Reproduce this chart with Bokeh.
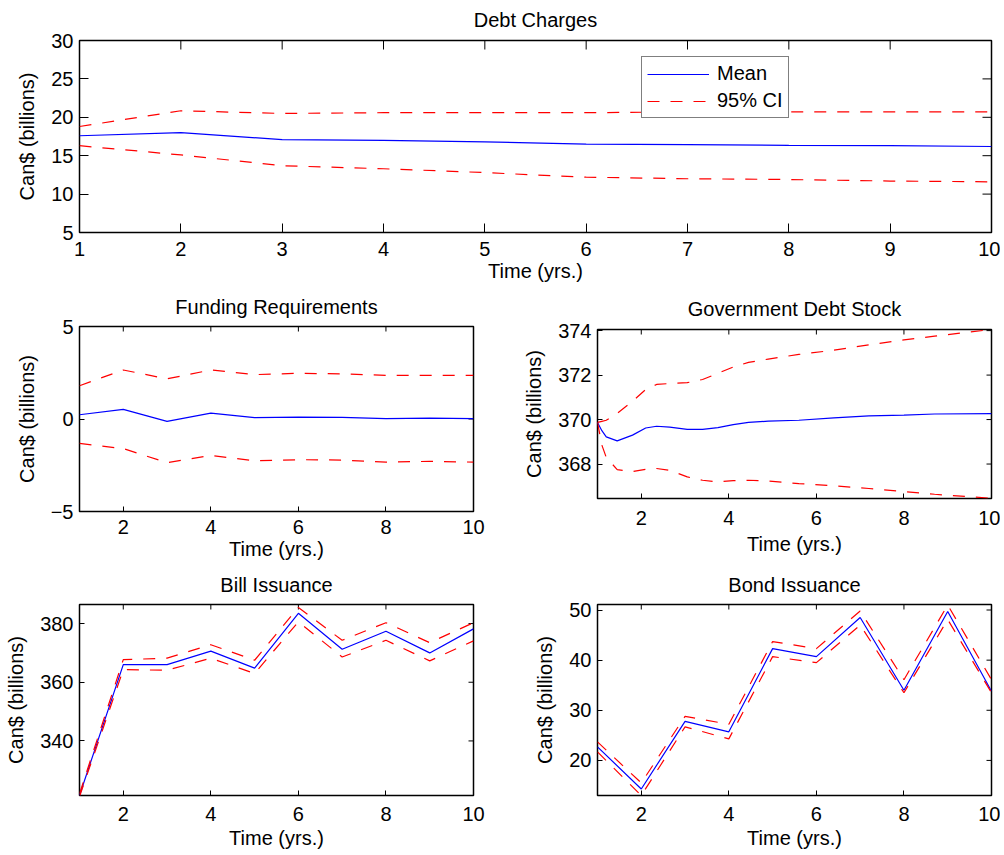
import math
from bokeh.plotting import figure
from bokeh.models import FixedTicker, Range1d, Legend, LegendItem
from bokeh.layouts import column, row
from bokeh.embed import file_html
from bokeh.resources import INLINE

FONT = "Liberation Sans"
FS = "20px"

# ---------------- data ----------------
years = [1, 2, 3, 4, 5, 6, 7, 8, 9, 10]

debt_mean = [17.6, 18.0, 17.1, 17.0, 16.8, 16.5, 16.45, 16.35, 16.3, 16.2]
debt_upper = [18.8, 20.85, 20.5, 20.6, 20.6, 20.6, 20.7, 20.7, 20.7, 20.7]
debt_lower = [16.3, 15.1, 13.7, 13.3, 12.8, 12.2, 12.0, 11.9, 11.7, 11.6]

fund_mean = [0.23, 0.52, -0.13, 0.32, 0.07, 0.10, 0.09, 0.02, 0.05, 0.02]
fund_upper = [1.8, 2.65, 2.17, 2.65, 2.4, 2.47, 2.44, 2.36, 2.36, 2.36]
fund_lower = [-1.32, -1.6, -2.36, -1.97, -2.26, -2.2, -2.22, -2.33, -2.29, -2.33]

stock_t = [1.0, 1.1, 1.2, 1.45, 1.8, 2.1, 2.35, 2.65, 3.05, 3.4, 3.75, 4.1,
           4.45, 4.9, 5.6, 6.4, 7.2, 8.0, 8.7, 10.0]
stock_mean = [369.87, 369.5, 369.22, 369.04, 369.3, 369.62, 369.7, 369.66, 369.56,
              369.56, 369.64, 369.77, 369.87, 369.93, 369.97, 370.08, 370.17,
              370.2, 370.25, 370.27]
stock_upper = [369.87, 369.92, 369.97, 370.28, 370.82, 371.35, 371.58, 371.62, 371.66,
               371.8, 372.08, 372.36, 372.57, 372.72, 372.93, 373.12, 373.36,
               373.58, 373.75, 374.05]
stock_lower = [369.87, 368.85, 368.3, 367.75, 367.66, 367.76, 367.8, 367.72, 367.42,
               367.27, 367.2, 367.25, 367.27, 367.24, 367.12, 367.02, 366.9,
               366.76, 366.64, 366.46]

bill_mean = [321.4, 366.0, 366.0, 370.6, 364.8, 383.5, 371.25, 377.4, 370.0, 378.2]
bill_upper = [322.0, 367.7, 368.2, 372.8, 367.5, 385.5, 374.3, 380.3, 373.5, 380.3]
bill_lower = [321.0, 364.3, 364.1, 368.2, 363.0, 380.6, 368.6, 374.3, 367.3, 374.1]

bond_mean = [22.7, 14.3, 27.8, 25.7, 42.3, 40.7, 48.5, 34.0, 49.7, 33.8]
bond_upper = [23.7, 15.5, 28.8, 27.2, 43.7, 42.3, 49.8, 36.1, 51.0, 36.1]
bond_lower = [21.7, 13.0, 26.7, 24.3, 40.7, 39.5, 47.0, 33.5, 48.1, 33.5]

debt_xticks = [1, 2, 3, 4, 5, 6, 7, 8, 9, 10]
debt_yticks = [5, 10, 15, 20, 25, 30]
small_xticks = [2, 4, 6, 8, 10]
fund_yticks = [-5, 0, 5]
stock_yticks = [368, 370, 372, 374]
bill_yticks = [340, 360, 380]
bond_yticks = [20, 30, 40, 50]

MEAN_COLOR = "#0000ff"
CI_COLOR = "#ff0000"
DASH = "12 11"


def style_axis(ax, tick_len, standoff, label_standoff):
    ax.axis_line_color = None
    ax.major_tick_in = tick_len
    ax.major_tick_out = 0
    ax.major_tick_line_color = "black"
    ax.major_tick_line_width = 1
    ax.minor_tick_line_color = None
    ax.major_label_text_font = FONT
    ax.major_label_text_font_size = FS
    ax.major_label_text_color = "black"
    ax.major_label_standoff = standoff
    ax.axis_label_text_font = FONT
    ax.axis_label_text_font_size = FS
    ax.axis_label_text_font_style = "normal"
    ax.axis_label_text_color = "black"
    ax.axis_label_standoff = label_standoff


def make_fig(title, width, height, left, right, top, bottom, xr, yr, xticks, yticks,
             tick_len, xstand, xlabstand, title_standoff, ystand=6, ylabstand=10,
             yover=None):
    p = figure(width=width, height=height, x_range=Range1d(*xr), y_range=Range1d(*yr),
               output_backend="svg", toolbar_location=None,
               min_border_left=left, min_border_right=right,
               min_border_top=top, min_border_bottom=bottom)
    p.grid.visible = False
    p.outline_line_color = "black"
    p.outline_line_width = 1.5
    p.background_fill_color = "white"
    p.border_fill_color = "white"
    p.title.text = title
    p.title.align = "center"
    p.title.vertical_align = "top"
    p.title.text_font = FONT
    p.title.text_font_size = FS
    p.title.text_font_style = "normal"
    p.title.text_color = "black"
    p.title.standoff = title_standoff
    p.xaxis.ticker = FixedTicker(ticks=xticks)
    p.yaxis.ticker = FixedTicker(ticks=yticks)
    if yover:
        p.yaxis.major_label_overrides = yover
    p.xaxis.axis_label = "Time (yrs.)"
    p.yaxis.axis_label = "Can$ (billions)"
    style_axis(p.xaxis[0], tick_len, xstand, xlabstand)
    style_axis(p.yaxis[0], tick_len, ystand, ylabstand)
    # mirrored inward ticks on the top and right edges of the box
    p.scatter(xticks, [yr[1]] * len(xticks), marker="dash", size=2 * tick_len,
              angle=math.pi / 2, line_color="black", line_width=1)
    p.scatter([xr[1]] * len(yticks), yticks, marker="dash", size=2 * tick_len,
              line_color="black", line_width=1)
    return p


def add_lines(p, x, mean, upper, lower):
    rm = p.line(x, mean, line_color=MEAN_COLOR, line_width=1.2)
    ru = p.line(x, upper, line_color=CI_COLOR, line_width=1.2, line_dash=DASH)
    p.line(x, lower, line_color=CI_COLOR, line_width=1.2, line_dash=DASH)
    return rm, ru


# Top: Debt Charges
p1 = make_fig("Debt Charges", 1000, 288, 79, 9, 40, 56, (1, 10), (5, 30),
              debt_xticks, debt_yticks, 9, 9, 1, 15)
rm, ru = add_lines(p1, years, debt_mean, debt_upper, debt_lower)
legend = Legend(items=[LegendItem(label="Mean", renderers=[rm]),
                       LegendItem(label="95% CI", renderers=[ru])],
                location=(562, 114))
legend.label_text_font = FONT
legend.label_text_font_size = FS
legend.label_text_color = "black"
legend.glyph_width = 62
legend.glyph_height = 22
legend.label_height = 22
legend.label_standoff = 8
legend.padding = 5
legend.spacing = 4
legend.margin = 0
legend.border_line_color = "black"
legend.border_line_width = 1.2
legend.background_fill_color = "white"
legend.background_fill_alpha = 1.0
p1.add_layout(legend)

# Middle row
p2 = make_fig("Funding Requirements", 518, 278, 79, 45, 38, 55, (1, 10), (-5, 5),
              small_xticks, fund_yticks, 5, 8, 1, 13, yover={-5: "\u22125"})
add_lines(p2, years, fund_mean, fund_upper, fund_lower)

p3 = make_fig("Government Debt Stock", 482, 278, 79, 9, 41, 68, (1, 10), (366.45, 374.05),
              small_xticks, stock_yticks, 5, 12, 5, 15)
add_lines(p3, stock_t, stock_mean, stock_upper, stock_lower)

# Bottom row
p4 = make_fig("Bill Issuance", 518, 289, 79, 45, 38, 60, (1, 10), (321.4, 386.5),
              small_xticks, bill_yticks, 5, 11, 3, 13)
add_lines(p4, years, bill_mean, bill_upper, bill_lower)

p5 = make_fig("Bond Issuance", 482, 289, 79, 9, 38, 60, (1, 10), (13.0, 51.1),
              small_xticks, bond_yticks, 5, 11, 3, 13)
add_lines(p5, years, bond_mean, bond_upper, bond_lower)

layout = column(p1, row(column(p2), column(p3)), row(column(p4), column(p5)))

open("out.html", "w").write(file_html(layout, INLINE))
